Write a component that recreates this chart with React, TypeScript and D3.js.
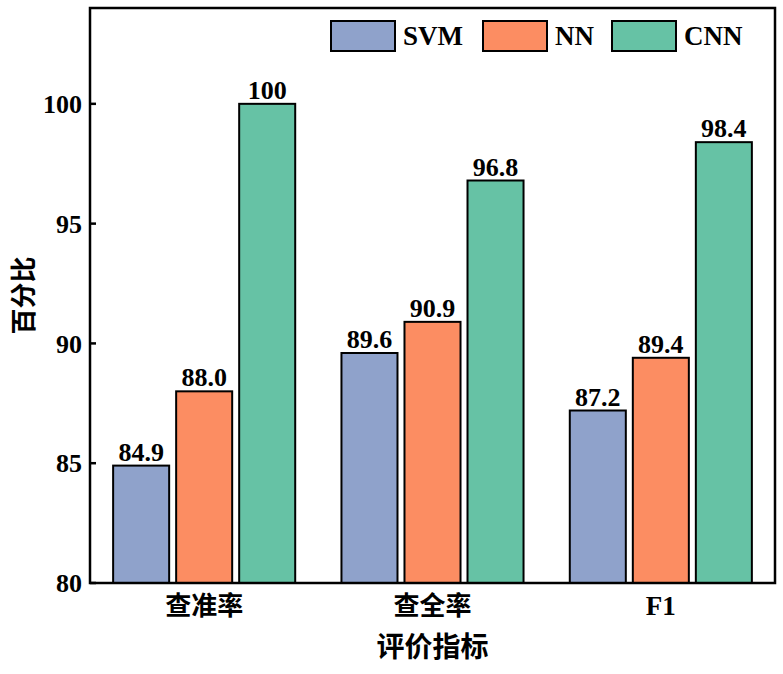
import React from "react";
import * as d3 from "d3";

const categories = ["查准率", "查全率", "F1"];
const seriesNames = ["SVM", "NN", "CNN"];
const svmValues = [84.9, 89.6, 87.2];
const nnValues = [88.0, 90.9, 89.4];
const cnnValues = [100, 96.8, 98.4];
const valueLabels = [
  ["84.9", "89.6", "87.2"],
  ["88.0", "90.9", "89.4"],
  ["100", "96.8", "98.4"],
];
const yTicks = [80, 85, 90, 95, 100];
const colors = ["#8FA2CB", "#FC8D62", "#66C2A5"];

const W = 783;
const H = 674;
const margin = { left: 90, right: 8, top: 8, bottom: 91 };

export default function App() {
  const series = [svmValues, nnValues, cnnValues];
  const x0 = d3
    .scaleBand<string>()
    .domain(categories)
    .range([margin.left, W - margin.right])
    .paddingInner(0)
    .paddingOuter(0);
  const x1 = d3
    .scaleBand<string>()
    .domain(seriesNames)
    .range([0, x0.bandwidth()])
    .paddingInner(0.111)
    .paddingOuter(0.367);
  const y = d3.scaleLinear().domain([80, 104]).range([H - margin.bottom, margin.top]);

  const font = "'Liberation Serif', 'Times New Roman', serif";
  const cjk = "'Noto Sans CJK SC', sans-serif";
  const left = margin.left;
  const right = W - margin.right;
  const top = margin.top;
  const bottom = H - margin.bottom;

  const legendX = [331, 483, 612];

  return (
    <svg
      width={W}
      height={H}
      style={{ position: "absolute", left: 0, top: 0, background: "#fff" }}
    >
      <rect x={0} y={0} width={W} height={H} fill="#fff" />
      {categories.map((c, ci) =>
        seriesNames.map((s, si) => {
          const v = series[si][ci];
          const bx = (x0(c) as number) + (x1(s) as number);
          const bw = x1.bandwidth();
          return (
            <g key={c + s}>
              <rect
                x={bx}
                y={y(v)}
                width={bw}
                height={y(80) - y(v)}
                fill={colors[si]}
                stroke="#000"
                strokeWidth={2}
              />
              <text
                x={bx + bw / 2}
                y={y(v) - 5}
                textAnchor="middle"
                fontFamily={font}
                fontWeight="bold"
                fontSize={26}
                fill="#000"
              >
                {valueLabels[si][ci]}
              </text>
            </g>
          );
        })
      )}
      <rect
        x={left}
        y={top}
        width={right - left}
        height={bottom - top}
        fill="none"
        stroke="#000"
        strokeWidth={2.5}
      />
      {yTicks.map((t) => (
        <g key={t}>
          <line x1={left} x2={left + 6} y1={y(t)} y2={y(t)} stroke="#000" strokeWidth={2.5} />
          <text
            x={left - 8}
            y={y(t)}
            dy="0.35em"
            textAnchor="end"
            fontFamily={font}
            fontWeight="bold"
            fontSize={26}
          >
            {t}
          </text>
        </g>
      ))}
      {categories.map((c) => (
        <text
          key={c}
          x={(x0(c) as number) + x0.bandwidth() / 2}
          y={606}
          dy="0.35em"
          textAnchor="middle"
          fontFamily={c === "F1" ? font : cjk}
          fontWeight="bold"
          fontSize={c === "F1" ? 27 : 26}
        >
          {c}
        </text>
      ))}
      <text
        x={(left + right) / 2}
        y={647}
        dy="0.35em"
        textAnchor="middle"
        fontFamily={cjk}
        fontWeight="bold"
        fontSize={28}
      >
        评价指标
      </text>
      <text
        transform={`translate(24, ${(top + bottom) / 2}) rotate(-90)`}
        dy="0.35em"
        textAnchor="middle"
        fontFamily={cjk}
        fontWeight="bold"
        fontSize={26}
      >
        百分比
      </text>
      {seriesNames.map((s, i) => (
        <g key={s}>
          <rect
            x={legendX[i]}
            y={21}
            width={64}
            height={30}
            fill={colors[i]}
            stroke="#000"
            strokeWidth={2}
          />
          <text
            x={legendX[i] + 72}
            y={36}
            dy="0.35em"
            fontFamily={font}
            fontWeight="bold"
            fontSize={27}
          >
            {s}
          </text>
        </g>
      ))}
    </svg>
  );
}
